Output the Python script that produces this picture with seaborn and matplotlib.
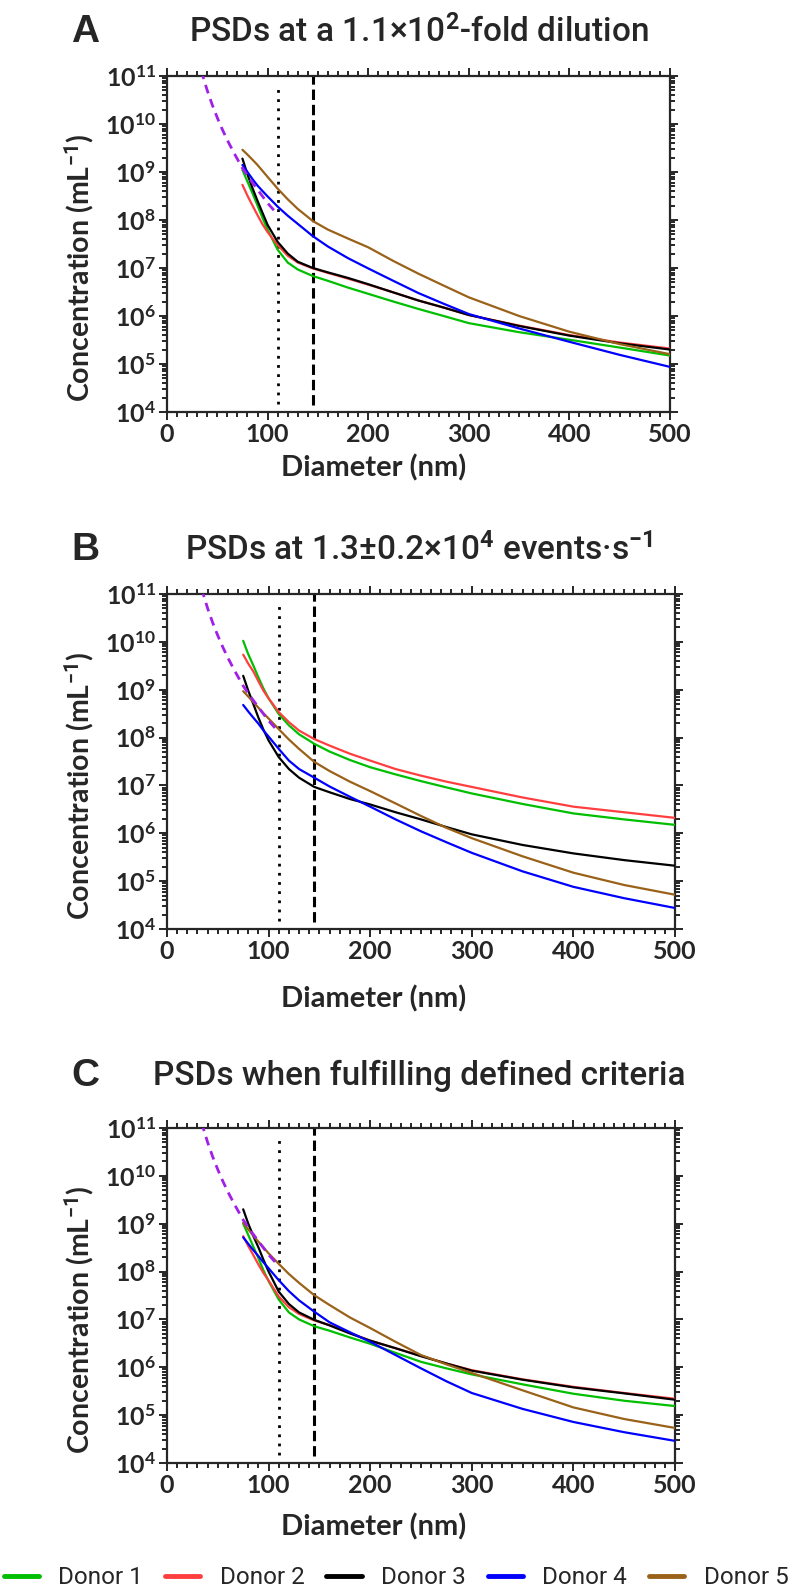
import numpy as np
import pandas as pd
import matplotlib
matplotlib.use('Agg')
import matplotlib.pyplot as plt
import matplotlib.ticker as mticker
from matplotlib import font_manager
import seaborn as sns

sns.set_style('ticks')

names = {f.name for f in font_manager.fontManager.ttflist}
narrow = 'Liberation Sans Narrow' if 'Liberation Sans Narrow' in names else 'Roboto'

plt.rcParams['font.family'] = ['Lato', 'DejaVu Sans']
plt.rcParams['font.weight'] = 'bold'
plt.rcParams['mathtext.fontset'] = 'custom'
plt.rcParams['mathtext.rm'] = narrow
plt.rcParams['mathtext.bf'] = 'Lato:bold'
plt.rcParams['mathtext.default'] = 'rm'

# ---- data ----
donors = ['Donor 1', 'Donor 2', 'Donor 3', 'Donor 4', 'Donor 5']
colors = ['#00bf00', '#ff3f3f', '#000000', '#0000ff', '#9a6118']

diam = [75, 80, 85, 90, 95, 100, 110, 120, 130, 145, 160, 180, 200, 225, 250, 275, 300, 350, 400, 450, 500]

# panel A: PSDs at a 1.1x10^2-fold dilution
a_d1 = [1.1e9, 6.3e8, 3.6e8, 2.0e8, 1.1e8, 6.3e7, 2.4e7, 1.3e7, 9.3e6, 6.8e6, 5.4e6,
        3.9e6, 2.9e6, 2.0e6, 1.4e6, 1.0e6, 7.1e5, 4.6e5, 3.2e5, 2.2e5, 1.5e5]
a_d2 = [5.4e8, 3.2e8, 2.0e8, 1.26e8, 8.1e7, 5.6e7, 3.0e7, 1.8e7, 1.3e7, 9.8e6, 7.9e6,
        6.0e6, 4.5e6, 3.1e6, 2.1e6, 1.5e6, 1.05e6, 6.3e5, 4.0e5, 2.8e5, 2.1e5]
a_d3 = [1.9e9, 8.9e8, 4.6e8, 2.5e8, 1.4e8, 7.9e7, 3.5e7, 2.0e7, 1.35e7, 1.0e7, 8.1e6,
        6.2e6, 4.6e6, 3.1e6, 2.1e6, 1.5e6, 1.05e6, 6.2e5, 3.9e5, 2.7e5, 2.0e5]
a_d4 = [1.4e9, 1.0e9, 7.1e8, 5.2e8, 4.0e8, 3.1e8, 1.9e8, 1.23e8, 8.3e7, 4.6e7, 2.8e7,
        1.6e7, 9.8e6, 5.4e6, 3.0e6, 1.8e6, 1.1e6, 5.5e5, 2.9e5, 1.55e5, 8.7e4]
a_d5 = [2.9e9, 2.3e9, 1.8e9, 1.4e9, 1.05e9, 7.9e8, 4.5e8, 2.7e8, 1.7e8, 9.5e7, 6.3e7,
        4.1e7, 2.7e7, 1.4e7, 7.6e6, 4.3e6, 2.45e6, 1.0e6, 4.7e5, 2.6e5, 1.6e5]

# panel B: PSDs at 1.3±0.2x10^4 events/s
b_d1 = [1.05e10, 5.5e9, 3.2e9, 1.8e9, 1.05e9, 6.6e8, 3.1e8, 1.8e8, 1.17e8, 7.4e7, 5.1e7,
        3.4e7, 2.4e7, 1.7e7, 1.23e7, 9.1e6, 6.8e6, 4.1e6, 2.6e6, 1.95e6, 1.5e6]
b_d2 = [5.4e9, 3.5e9, 2.4e9, 1.5e9, 9.5e8, 6.6e8, 3.4e8, 2.1e8, 1.4e8, 9.3e7, 6.8e7,
        4.6e7, 3.3e7, 2.2e7, 1.6e7, 1.2e7, 9.3e6, 5.6e6, 3.6e6, 2.75e6, 2.1e6]
b_d3 = [1.95e9, 9.5e8, 5.0e8, 2.6e8, 1.45e8, 8.7e7, 3.9e7, 2.2e7, 1.45e7, 9.3e6, 7.2e6,
        5.2e6, 4.0e6, 2.75e6, 1.95e6, 1.35e6, 9.5e5, 5.7e5, 3.8e5, 2.75e5, 2.1e5]
b_d4 = [4.8e8, 3.5e8, 2.6e8, 1.95e8, 1.4e8, 1.05e8, 5.8e7, 3.3e7, 2.2e7, 1.45e7, 9.5e6,
        5.8e6, 3.6e6, 1.95e6, 1.1e6, 6.5e5, 3.9e5, 1.6e5, 7.6e4, 4.4e4, 2.75e4]
b_d5 = [9.3e8, 7.2e8, 5.5e8, 4.2e8, 3.2e8, 2.5e8, 1.5e8, 9.1e7, 5.8e7, 3.1e7, 2.0e7,
        1.2e7, 7.6e6, 4.2e6, 2.3e6, 1.3e6, 7.9e5, 3.3e5, 1.5e5, 8.3e4, 5.2e4]

# panel C: PSDs when fulfilling defined criteria
c_d1 = [1.0e9, 5.8e8, 3.3e8, 1.9e8, 1.05e8, 6.3e7, 2.6e7, 1.4e7, 1.0e7, 7.2e6, 5.8e6,
        4.2e6, 3.1e6, 2.0e6, 1.3e6, 9.5e5, 7.1e5, 4.4e5, 2.8e5, 2.0e5, 1.55e5]
c_d2 = [5.5e8, 3.4e8, 2.2e8, 1.4e8, 9.3e7, 6.5e7, 3.0e7, 1.8e7, 1.3e7, 9.5e6, 7.6e6,
        5.2e6, 3.6e6, 2.5e6, 1.75e6, 1.2e6, 8.7e5, 5.6e5, 3.9e5, 2.9e5, 2.2e5]
c_d3 = [2.0e9, 1.0e9, 5.5e8, 3.2e8, 1.75e8, 1.0e8, 3.8e7, 2.1e7, 1.4e7, 9.8e6, 7.5e6,
        5.1e6, 3.6e6, 2.5e6, 1.7e6, 1.2e6, 8.5e5, 5.5e5, 3.8e5, 2.85e5, 2.1e5]
c_d4 = [5.2e8, 3.8e8, 2.8e8, 2.1e8, 1.55e8, 1.17e8, 6.6e7, 3.9e7, 2.5e7, 1.45e7, 8.7e6,
        5.4e6, 3.4e6, 1.8e6, 9.5e5, 5.1e5, 2.9e5, 1.35e5, 7.2e4, 4.4e4, 2.9e4]
c_d5 = [1.05e9, 7.6e8, 5.6e8, 4.2e8, 3.2e8, 2.4e8, 1.45e8, 8.9e7, 5.8e7, 3.2e7, 2.0e7,
        1.1e7, 6.6e6, 3.4e6, 1.8e6, 1.15e6, 7.6e5, 3.3e5, 1.45e5, 8.3e4, 5.4e4]

# purple dashed reference curve (same in every panel)
ref_x = [34, 40, 45, 50, 55, 60, 67, 75, 82, 90, 100, 110]
ref_y = [1.3e11, 5.0e10, 2.5e10, 1.35e10, 7.7e9, 4.6e9, 2.4e9, 1.2e9, 7.3e8, 4.3e8, 2.25e8, 1.3e8]

lod_x = 110   # dotted line
cut_x = 145   # dashed line

panels = [
    ('A', 'PSDs at a 1.1×10$^{2}$-fold dilution', [a_d1, a_d2, a_d3, a_d4, a_d5]),
    ('B', 'PSDs at 1.3±0.2×10$^{4}$ events·s$^{-1}$', [b_d1, b_d2, b_d3, b_d4, b_d5]),
    ('C', 'PSDs when fulfilling defined criteria', [c_d1, c_d2, c_d3, c_d4, c_d5]),
]

W, H = 792, 1590
fig = plt.figure(figsize=(W / 100, H / 100), dpi=100)

# axes boxes in pixels: left, right, top, bottom ; title centre y ; x-label centre y
boxes = [(167, 670, 76, 412), (167, 675, 594, 929), (167, 675, 1128, 1463)]
title_y = [32, 550, 1076]
xlab_y = [468, 999, 1527]


def rect(l, r, t, b):
    return [l / W, 1 - b / H, (r - l) / W, (b - t) / H]


def pow_fmt(v, pos):
    e = int(round(np.log10(v)))
    return r'$\mathbf{10^{%d}}$' % e


for (letter, title, series), box, ty, xy in zip(panels, boxes, title_y, xlab_y):
    ax = fig.add_axes(rect(*box))
    rows = []
    for name, vals in zip(donors, series):
        for d, v in zip(diam, vals):
            rows.append({'Diameter': d, 'Conc': v, 'Donor': name})
    df = pd.DataFrame(rows)

    ax.plot(ref_x, ref_y, color='#a020e8', lw=2.0, ls=(0, (3.2, 2.2)), zorder=4)
    sns.lineplot(data=df, x='Diameter', y='Conc', hue='Donor', palette=colors,
                 estimator=None, sort=True, lw=1.6, legend=False, ax=ax, zorder=3)
    ax.axvline(lod_x, ymin=0.025, ymax=0.965, color='black', lw=2.0, ls=(0, (1, 2.3)))
    ax.axvline(cut_x, ymin=0.02, ymax=1.0, color='black', lw=2.2, ls=(0, (3.4, 1.6)))

    ax.set_yscale('log')
    ax.set_xlim(0, 500)
    ax.set_ylim(1e4, 1e11)
    ax.xaxis.set_major_locator(mticker.MultipleLocator(100))
    ax.xaxis.set_minor_locator(mticker.MultipleLocator(10))
    ax.yaxis.set_major_locator(mticker.LogLocator(base=10, numticks=20))
    ax.yaxis.set_minor_locator(mticker.LogLocator(base=10, subs=np.arange(2, 10), numticks=20))
    ax.yaxis.set_major_formatter(mticker.FuncFormatter(pow_fmt))
    ax.yaxis.set_minor_formatter(mticker.NullFormatter())

    for s in ax.spines.values():
        s.set_linewidth(1.6)
        s.set_visible(True)
    ax.tick_params(which='both', direction='out', top=True, right=True, width=1.4, pad=2)
    ax.tick_params(which='major', length=6)
    ax.tick_params(which='minor', length=3.5)
    ax.tick_params(axis='x', labelsize=18)
    ax.tick_params(axis='y', labelsize=18)

    l, r, t, b = box
    ax.set_xlabel('Diameter (nm)', fontsize=21, fontweight='bold')
    ax.xaxis.label.set_va('center')
    ax.xaxis.set_label_coords((374 - l) / (r - l), (b - xy) / (b - t))
    ax.set_ylabel('Concentration (mL$^{-1}$)', fontsize=20.5, fontweight='bold')
    ax.yaxis.label.set_va('center')
    ax.yaxis.set_label_coords((80 - l) / (r - l), 0.5 - 24 / (b - t))

    fig.text(85 / W, 1 - ty / H, letter, fontsize=28, fontweight='bold',
             family=['Liberation Sans', 'DejaVu Sans'], ha='center', va='center')
    fig.text(419 / W, 1 - ty / H, title, fontsize=24, fontweight='medium',
             family=[narrow, 'DejaVu Sans'], ha='center', va='center')

handles = [plt.Line2D([], [], color=c, lw=3.5) for c in colors]
fig.legend(handles, donors, loc='center', bbox_to_anchor=(0.5, 1 - 1578 / H),
           ncol=5, frameon=False, handlelength=1.45, handletextpad=0.8,
           columnspacing=0.9, borderaxespad=0, borderpad=0,
           prop={'family': [narrow, 'DejaVu Sans'], 'size': 17.5, 'weight': 'normal'})

fig.savefig('out.png', dpi=100)
